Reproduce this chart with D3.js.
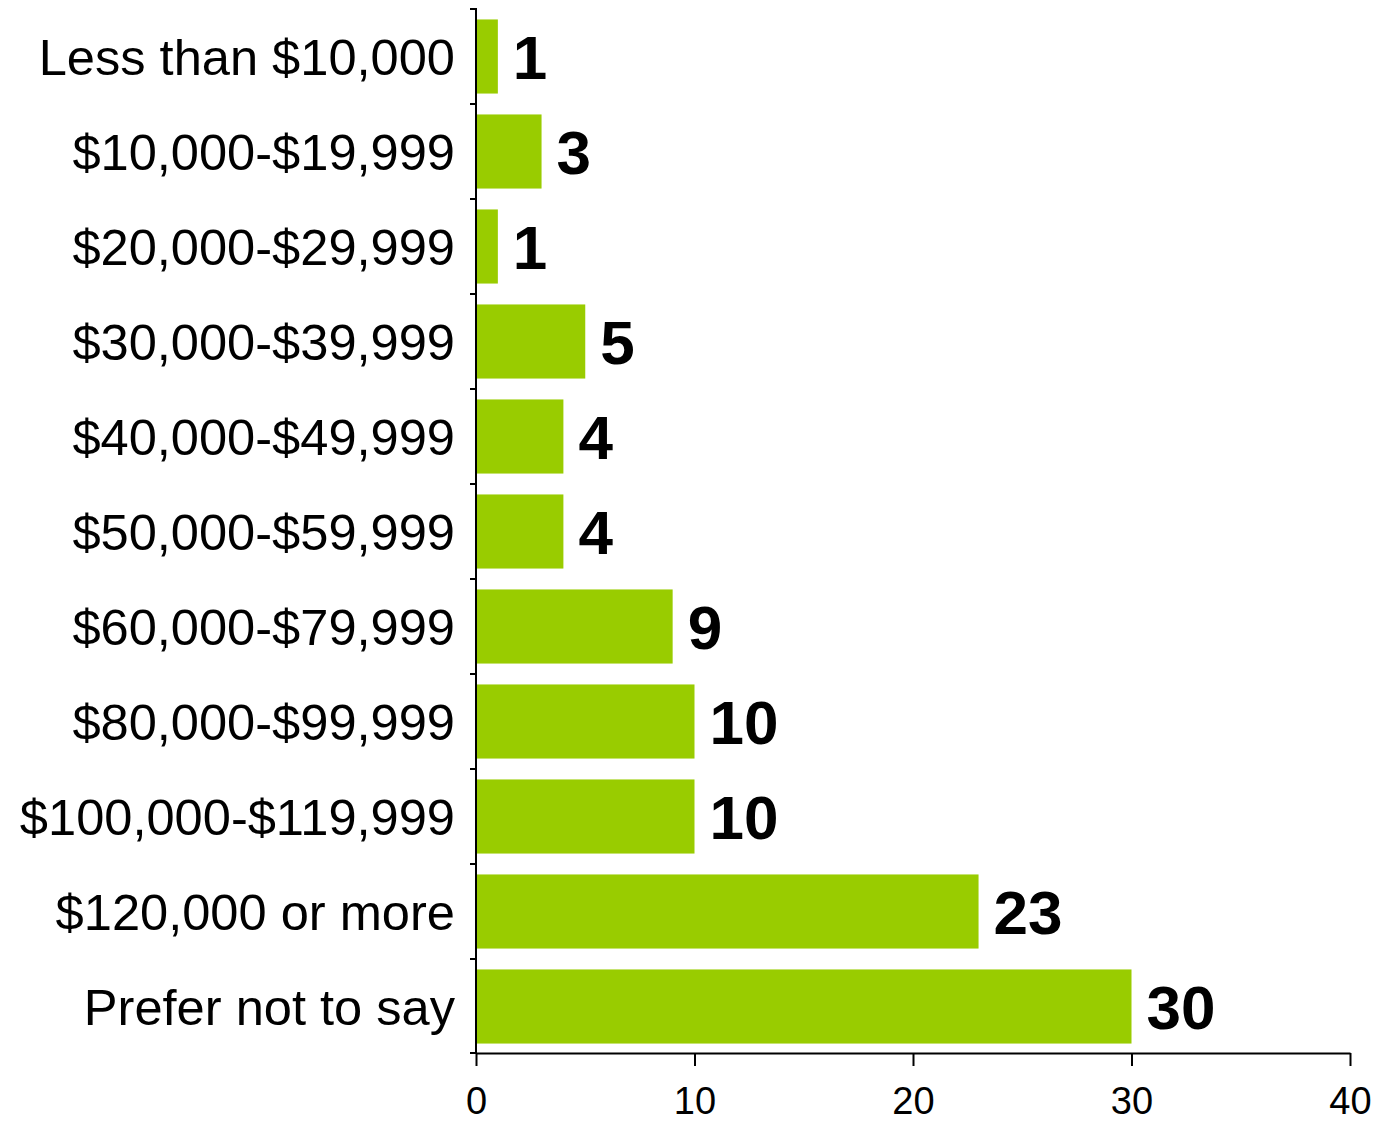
<!DOCTYPE html>
<html>
<head>
<meta charset="utf-8">
<script src="https://cdn.jsdelivr.net/npm/d3@7"></script>
<style>
  html, body { margin: 0; padding: 0; background: #fff; }
  svg { display: block; font-family: "Liberation Sans", Arial, sans-serif; }
</style>
</head>
<body>
<svg id="chart" width="1376" height="1124"></svg>
<script>
// Household income brackets and respondent counts
const categories = [
  "Less than $10,000",
  "$10,000-$19,999",
  "$20,000-$29,999",
  "$30,000-$39,999",
  "$40,000-$49,999",
  "$50,000-$59,999",
  "$60,000-$79,999",
  "$80,000-$99,999",
  "$100,000-$119,999",
  "$120,000 or more",
  "Prefer not to say"
];
const counts = [1, 3, 1, 5, 4, 4, 9, 10, 10, 23, 30];
const xTicks = [0, 10, 20, 30, 40];

const svg = d3.select("#chart");
const plotLeft = 476, plotRight = 1350, plotTop = 8, plotBottom = 1053;

const x = d3.scaleLinear().domain([0, 40]).range([plotLeft, plotRight]);
const y = d3.scaleBand().domain(categories).range([plotTop + 1, plotBottom + 1])
  .paddingInner(0.22).paddingOuter(0.11);

// Bars
svg.append("g").selectAll("rect")
  .data(categories)
  .join("rect")
  .attr("x", x(0) + 1)
  .attr("y", d => y(d))
  .attr("width", (d, i) => x(counts[i]) - x(0) - 1)
  .attr("height", y.bandwidth())
  .attr("fill", "#99cc00");

// Value labels
svg.append("g").selectAll("text")
  .data(categories)
  .join("text")
  .attr("x", (d, i) => x(counts[i]) + 15)
  .attr("y", d => y(d) + y.bandwidth() / 2)
  .attr("dy", "0.36em")
  .attr("font-size", 62)
  .attr("font-weight", "bold")
  .attr("fill", "#000")
  .text((d, i) => counts[i]);

// Category axis: ticks sit on the band boundaries
const boundaries = categories.map(c => y(c) - y.step() * y.paddingInner() / 2).concat([plotBottom]);
const yAxis = svg.append("g");
yAxis.append("line")
  .attr("x1", plotLeft).attr("x2", plotLeft)
  .attr("y1", plotTop).attr("y2", plotBottom)
  .attr("stroke", "#000").attr("stroke-width", 2);
yAxis.selectAll("line.tick")
  .data(boundaries)
  .join("line")
  .attr("class", "tick")
  .attr("x1", plotLeft - 6).attr("x2", plotLeft)
  .attr("y1", d => d).attr("y2", d => d)
  .attr("stroke", "#000").attr("stroke-width", 2);
yAxis.selectAll("text")
  .data(categories)
  .join("text")
  .attr("x", 455)
  .attr("y", d => y(d) + y.bandwidth() / 2)
  .attr("dy", "0.36em")
  .attr("text-anchor", "end")
  .attr("font-size", 50.6)
  .attr("fill", "#000")
  .text(d => d);

// Value axis along the bottom
const xAxis = svg.append("g")
  .attr("transform", `translate(0,${plotBottom})`)
  .call(d3.axisBottom(x).tickValues(xTicks).tickSize(13).tickPadding(0).tickSizeOuter(0));
xAxis.select(".domain").attr("stroke", "#000").attr("stroke-width", 2);
xAxis.selectAll(".tick line").attr("stroke", "#000").attr("stroke-width", 2);
xAxis.selectAll(".tick text")
  .attr("y", 61)
  .attr("dy", 0)
  .attr("font-size", 38)
  .attr("font-family", "Liberation Sans, Arial, sans-serif")
  .attr("fill", "#000");
</script>
</body>
</html>
